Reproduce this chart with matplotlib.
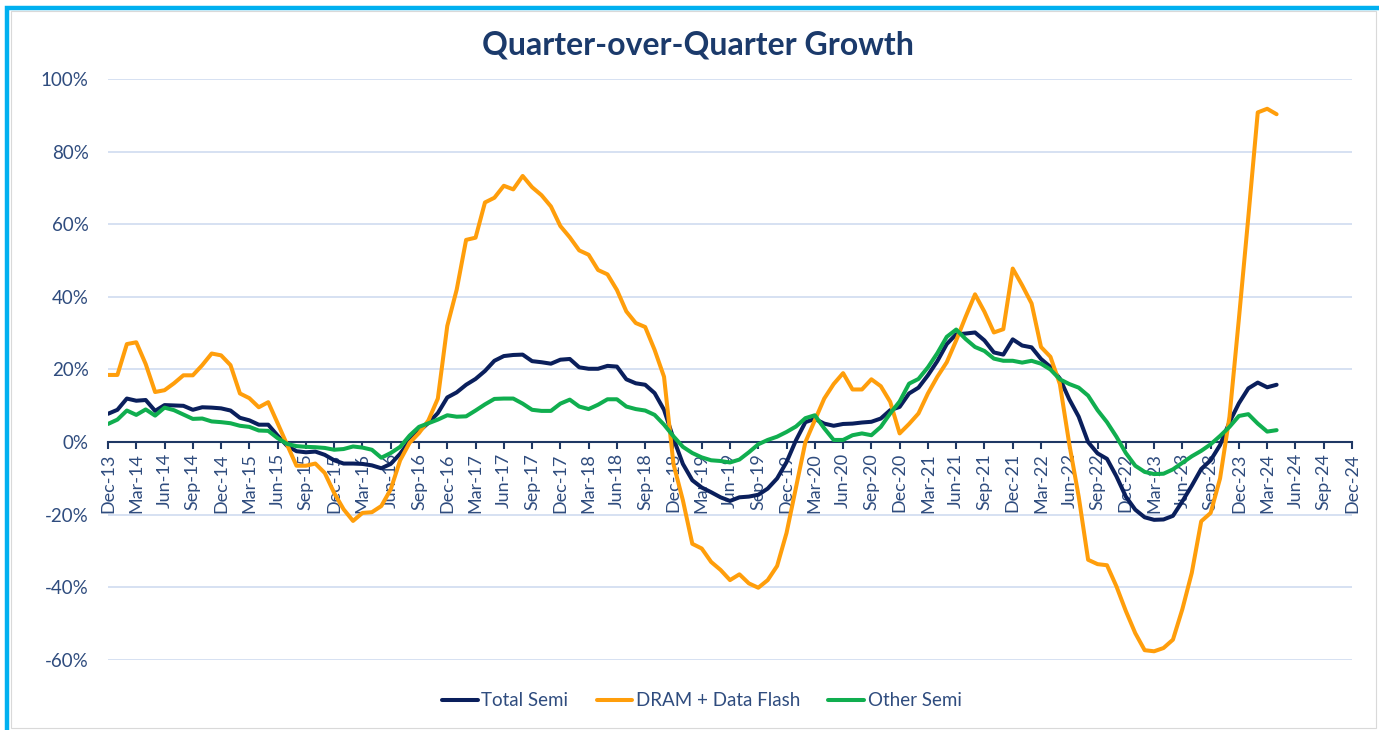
"""Quarter-over-quarter growth chart: Total Semi vs DRAM + Data Flash vs Other Semi."""

import matplotlib

matplotlib.use("Agg")  # headless

import matplotlib.pyplot as plt  # noqa: E402
import pandas as pd  # noqa: E402
from matplotlib.patches import Rectangle  # noqa: E402
from matplotlib.ticker import FuncFormatter  # noqa: E402

plt.rcParams["font.family"] = ["Lato", "DejaVu Sans"]

# monthly series, Dec-13 .. Apr-24 (QoQ growth, %)
months = pd.date_range("2013-12-01", periods=125, freq="MS")
tick_months = pd.date_range("2013-12-01", "2024-12-01", freq="3MS")

total_semi = [
    7.8, 8.9, 12.0, 11.4, 11.6, 8.6, 10.2, 10.1, 10.0, 8.9, 9.6, 9.5,
    9.3, 8.7, 6.7, 6.0, 4.8, 4.8, 1.8, -1.0, -2.5, -2.8, -2.6, -3.5,
    -5.0, -5.9, -5.9, -6.0, -6.4, -7.2, -6.0, -3.2, 0.3, 3.0, 5.3, 8.0,
    12.3, 13.7, 15.8, 17.4, 19.6, 22.4, 23.7, 24.0, 24.1, 22.3, 22.0, 21.6,
    22.7, 22.9, 20.6, 20.2, 20.2, 21.0, 20.8, 17.3, 16.2, 15.8, 13.5, 8.9,
    1.0, -6.0, -10.5, -12.5, -13.8, -15.2, -16.2, -15.2, -15.0, -14.5, -12.8, -10.0,
    -5.5, 0.5, 5.5, 6.4, 5.1, 4.5, 5.0, 5.1, 5.4, 5.6, 6.5, 8.8,
    9.7, 13.4, 15.0, 18.4, 22.3, 27.0, 29.7, 29.9, 30.2, 28.0, 24.7, 24.1,
    28.3, 26.6, 26.1, 22.9, 20.7, 17.5, 11.8, 7.0, 0.0, -3.1, -4.6, -9.4,
    -15.0, -18.6, -20.7, -21.4, -21.3, -20.3, -16.3, -12.0, -7.4, -5.0, -0.8, 5.5,
    10.7, 14.8, 16.4, 15.1, 15.8,
]
dram_flash = [
    18.5, 18.5, 27.0, 27.5, 21.5, 13.8, 14.3, 16.2, 18.4, 18.4, 21.2, 24.4,
    23.9, 21.2, 13.4, 12.1, 9.6, 11.0, 5.2, -0.7, -6.5, -6.5, -5.9, -8.5,
    -14.0, -18.5, -21.7, -19.5, -19.3, -17.6, -13.0, -5.0, -0.2, 2.5, 6.0, 12.0,
    32.0, 42.0, 55.7, 56.3, 66.0, 67.3, 70.6, 69.6, 73.3, 70.2, 68.0, 64.9,
    59.5, 56.4, 52.8, 51.6, 47.4, 46.2, 41.9, 36.0, 32.8, 31.7, 25.4, 18.0,
    -6.0, -16.0, -28.0, -29.3, -33.0, -35.2, -38.0, -36.4, -38.9, -40.1, -38.0, -34.1,
    -25.0, -12.5, 0.0, 6.0, 12.0, 16.0, 19.0, 14.5, 14.5, 17.3, 15.4, 11.1,
    2.4, 5.0, 7.9, 13.4, 18.0, 22.0, 28.0, 34.5, 40.7, 35.9, 30.2, 31.1,
    47.8, 43.2, 38.2, 26.2, 23.5, 16.0, -0.5, -15.0, -32.4, -33.6, -33.9, -39.7,
    -46.5, -52.6, -57.3, -57.6, -56.7, -54.4, -46.0, -36.0, -21.8, -19.5, -10.0, 7.0,
    34.0, 62.0, 90.8, 91.8, 90.3,
]
other_semi = [
    5.0, 6.2, 8.7, 7.5, 9.0, 7.3, 9.5, 8.8, 7.6, 6.4, 6.5, 5.7,
    5.5, 5.2, 4.5, 4.2, 3.2, 3.1, 1.1, -0.5, -1.1, -1.3, -1.4, -1.6,
    -2.1, -1.9, -1.2, -1.5, -2.1, -4.3, -3.0, -1.3, 1.8, 4.2, 5.2, 6.2,
    7.4, 7.0, 7.1, 8.7, 10.4, 11.9, 12.0, 12.0, 10.6, 8.9, 8.6, 8.6,
    10.6, 11.7, 9.8, 9.1, 10.3, 11.8, 11.8, 9.8, 9.1, 8.7, 7.5, 4.8,
    1.6, -1.3, -3.0, -4.2, -5.0, -5.2, -5.6, -4.8, -2.8, -0.6, 0.6, 1.5,
    2.8, 4.3, 6.6, 7.4, 3.8, 0.6, 0.6, 1.9, 2.4, 1.9, 4.2, 7.9,
    11.2, 16.1, 17.4, 20.6, 24.5, 29.0, 31.0, 28.4, 26.2, 25.1, 23.0, 22.4,
    22.4, 21.9, 22.4, 21.6, 20.0, 17.3, 16.0, 15.0, 12.8, 8.8, 5.5, 1.5,
    -3.0, -6.5, -8.2, -8.8, -8.7, -7.5, -5.7, -3.9, -2.4, -0.6, 1.7, 4.2,
    7.2, 7.7, 5.1, 2.9, 3.3,
]

NAVY = "#0A1F5C"
ORANGE = "#FF9E0B"
GREEN = "#10AE4F"
TEXT = "#2F4C7E"
AXIS = "#1F3864"
GRID = "#D6E1F2"

start = months[0]
x = [(m.year - start.year) * 12 + m.month - start.month for m in months]
tick_pos = [(t.year - start.year) * 12 + t.month - start.month for t in tick_months]
tick_labels = [t.strftime("%b-%y") for t in tick_months]

W, H = 1379, 730
fig = plt.figure(figsize=(W / 100, H / 100), dpi=100)
ax = fig.add_axes([108 / W, 1 - 660 / H, (1352 - 108) / W, (660 - 79) / H])

ax.plot(x, total_semi, color=NAVY, lw=2.9, label="Total Semi", solid_capstyle="round")
ax.plot(x, dram_flash, color=ORANGE, lw=2.9, label="DRAM + Data Flash", solid_capstyle="round")
ax.plot(x, other_semi, color=GREEN, lw=2.9, label="Other Semi", solid_capstyle="round")

ax.set_xlim(tick_pos[0], tick_pos[-1])
ax.set_ylim(-60, 100)
ax.set_yticks(range(-60, 101, 20))
ax.yaxis.set_major_formatter(FuncFormatter(lambda v, _: f"{v:.0f}%"))
ax.grid(axis="y", color=GRID, lw=1.4)
ax.set_axisbelow(True)

for side in ("left", "right", "top"):
    ax.spines[side].set_visible(False)
ax.spines["bottom"].set_position(("data", 0))
ax.spines["bottom"].set_color(AXIS)
ax.spines["bottom"].set_linewidth(1.5)
ax.spines["bottom"].set_zorder(1)

ax.set_xticks(tick_pos)
ax.set_xticklabels(tick_labels, rotation=90)
ax.tick_params(axis="x", colors=AXIS, length=5, width=1.5, pad=3, labelsize=13,
               labelcolor=TEXT)
ax.tick_params(axis="y", length=0, pad=14, labelsize=13.5, labelcolor=TEXT)

fig.text(0.506, 0.938, "Quarter-over-Quarter Growth", ha="center", va="center",
         fontsize=23, fontweight="bold", color="#1B3A6B")

fig.legend(loc="center", bbox_to_anchor=(0.509, 0.04), ncol=3, frameon=False,
           fontsize=13.5, labelcolor=TEXT, handlelength=1.9, handletextpad=0.2,
           columnspacing=1.5)

# chart frame: light inner border plus the cyan outline (cut at right/bottom)
fig.add_artist(Rectangle((11 / W, 1 - 728 / H), (1376 - 11) / W, (728 - 11) / H,
                         transform=fig.transFigure, fill=False, ec="#D9D9D9", lw=0.8))
fig.add_artist(Rectangle((7 / W, -0.5), 2, 0.5 + 1 - 8 / H,
                         transform=fig.transFigure, fill=False, ec="#00B0F0", lw=3.2))

fig.savefig("out.png", dpi=100)
